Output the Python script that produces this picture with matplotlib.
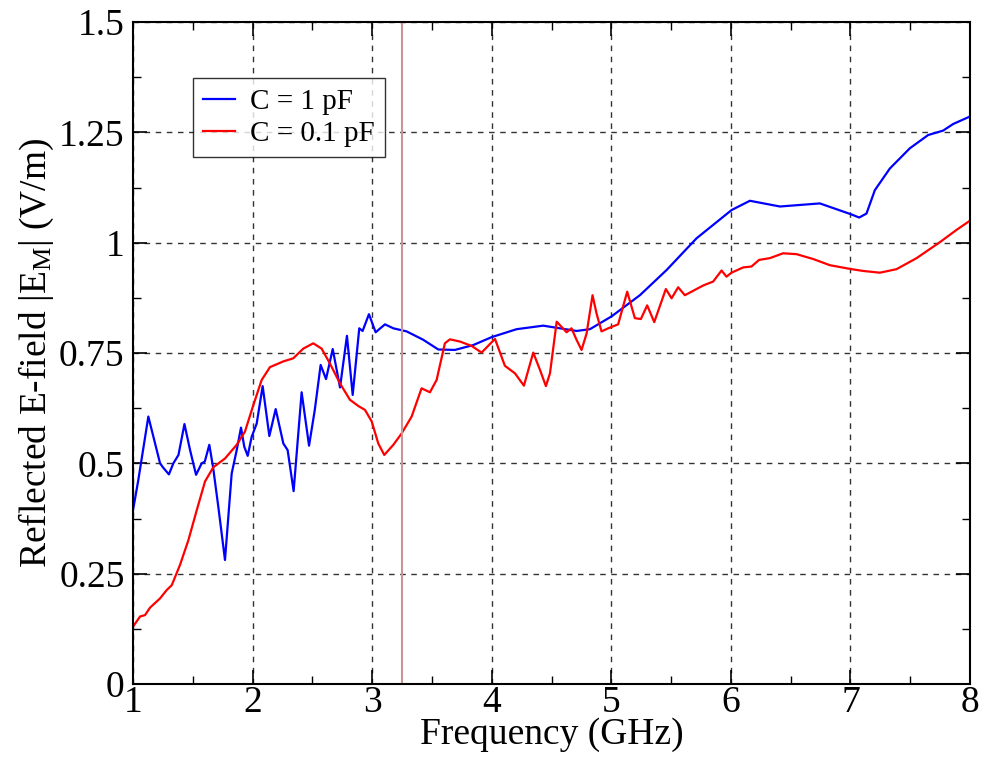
import numpy as np
import matplotlib
matplotlib.use("Agg")
import matplotlib.pyplot as plt
from matplotlib.ticker import MultipleLocator

plt.rcParams['font.family'] = ['Liberation Serif', 'DejaVu Serif']
plt.rcParams['mathtext.fontset'] = 'custom'
plt.rcParams['mathtext.rm'] = 'Liberation Serif'
plt.rcParams['mathtext.it'] = 'Liberation Serif'

# C = 1 pF (blue)
f_1pF = [1.0, 1.044, 1.128, 1.226, 1.253, 1.30, 1.337, 1.38, 1.43, 1.477, 1.527, 1.574, 1.60,
         1.638, 1.67, 1.713, 1.769, 1.825, 1.867, 1.903, 1.93, 1.959, 1.992, 2.034, 2.084,
         2.14, 2.193, 2.257, 2.293, 2.343, 2.41, 2.472, 2.52, 2.569, 2.614, 2.67, 2.731,
         2.789, 2.837, 2.892, 2.92, 2.973, 3.029, 3.107, 3.177, 3.288, 3.427, 3.553, 3.692,
         3.845, 3.999, 4.208, 4.43, 4.57, 4.71, 4.821, 5.002, 5.239, 5.462, 5.713, 6.006,
         6.159, 6.41, 6.744, 7.009, 7.073, 7.134, 7.204, 7.329, 7.497, 7.65, 7.775, 7.859, 8.0]
e_1pF = [0.394, 0.462, 0.606, 0.50, 0.49, 0.475, 0.50, 0.519, 0.589, 0.53, 0.474, 0.50, 0.504,
         0.542, 0.49, 0.402, 0.281, 0.477, 0.53, 0.581, 0.538, 0.517, 0.56, 0.59, 0.675,
         0.562, 0.623, 0.545, 0.53, 0.437, 0.661, 0.54, 0.621, 0.723, 0.691, 0.759, 0.672,
         0.789, 0.655, 0.806, 0.80, 0.838, 0.797, 0.815, 0.806, 0.799, 0.78, 0.758, 0.757,
         0.768, 0.786, 0.804, 0.812, 0.806, 0.80, 0.804, 0.833, 0.881, 0.938, 1.01, 1.074,
         1.095, 1.082, 1.089, 1.064, 1.057, 1.066, 1.119, 1.168, 1.214, 1.244, 1.254, 1.269, 1.286]

# C = 0.1 pF (red)
f_01pF = [1.0, 1.059, 1.10, 1.142, 1.226, 1.282, 1.324, 1.393, 1.463, 1.533, 1.602, 1.671,
          1.769, 1.867, 1.936, 2.006, 2.076, 2.145, 2.257, 2.34, 2.424, 2.507, 2.577, 2.647,
          2.731, 2.814, 2.884, 2.94, 2.996, 3.051, 3.101, 3.177, 3.247, 3.33, 3.413, 3.483,
          3.539, 3.608, 3.65, 3.734, 3.832, 3.915, 4.027, 4.11, 4.194, 4.269, 4.347, 4.403,
          4.453, 4.487, 4.543, 4.626, 4.667, 4.709, 4.751, 4.793, 4.843, 4.876, 4.918, 4.974,
          5.057, 5.133, 5.197, 5.247, 5.30, 5.359, 5.456, 5.504, 5.559, 5.615, 5.685, 5.768,
          5.852, 5.922, 5.963, 6.005, 6.103, 6.172, 6.236, 6.326, 6.437, 6.549, 6.688, 6.828,
          7.009, 7.106, 7.246, 7.385, 7.553, 7.747, 7.887, 8.0]
e_01pF = [0.130, 0.153, 0.156, 0.173, 0.194, 0.213, 0.224, 0.27, 0.326, 0.394, 0.459, 0.491,
          0.511, 0.542, 0.572, 0.632, 0.689, 0.718, 0.731, 0.738, 0.76, 0.772, 0.76, 0.726,
          0.681, 0.644, 0.63, 0.621, 0.595, 0.545, 0.519, 0.542, 0.568, 0.606, 0.67, 0.661,
          0.689, 0.772, 0.781, 0.776, 0.766, 0.751, 0.782, 0.721, 0.704, 0.676, 0.751, 0.712,
          0.675, 0.704, 0.821, 0.797, 0.806, 0.78, 0.757, 0.794, 0.881, 0.84, 0.799, 0.806,
          0.815, 0.889, 0.829, 0.827, 0.858, 0.82, 0.895, 0.874, 0.899, 0.881, 0.891, 0.903,
          0.912, 0.937, 0.923, 0.932, 0.944, 0.946, 0.961, 0.965, 0.976, 0.974, 0.963, 0.949,
          0.94, 0.936, 0.932, 0.94, 0.965, 1.001, 1.029, 1.05]

marker_f = 3.25

fig = plt.figure(figsize=(9.84, 7.6), dpi=100)
ax = fig.add_axes([0.1352, 0.1, 0.8506, 0.871])

ax.plot(f_1pF, e_1pF, color='#0000ff', lw=1.6, label='C = 1 pF')
ax.plot(f_01pF, e_01pF, color='#ff0000', lw=1.6, label='C = 0.1 pF')
ax.axvline(marker_f, color='#c89696', lw=1.5)

ax.set_xlim(1, 8)
ax.set_ylim(0, 1.5)
ax.xaxis.set_major_locator(MultipleLocator(1))
ax.xaxis.set_minor_locator(MultipleLocator(0.5))
ax.yaxis.set_minor_locator(MultipleLocator(0.125))
ax.set_yticks([0, 0.25, 0.5, 0.75, 1, 1.25, 1.5])
ax.set_yticklabels(['0', '0.25', '0.5', '0.75', '1', '1.25', '1.5'])

ax.grid(True, which='major', color='black', ls=(0, (4, 4)), lw=1.0, alpha=0.8)
ax.tick_params(which='both', direction='in', top=True, right=True, labelsize=27)
ax.tick_params(axis='x', which='major', pad=1)
ax.tick_params(axis='y', which='major', pad=6)
ax.tick_params(which='major', length=10, width=1.2)
ax.tick_params(which='minor', length=6, width=1.0)
for s in ax.spines.values():
    s.set_linewidth(1.5)

ax.set_xlabel('Frequency (GHz)', fontsize=27, labelpad=-2)
ax.set_ylabel('Reflected E-field |E$_\\mathrm{M}$| (V/m)', fontsize=27, labelpad=2)

leg = ax.legend(loc='upper left', bbox_to_anchor=(0.0717, 0.915), borderaxespad=0,
                fontsize=21, frameon=True, fancybox=False, edgecolor='black',
                handlelength=1.1, handletextpad=0.5, borderpad=0.35, labelspacing=0.2)
leg.get_frame().set_linewidth(1.0)

fig.savefig('out.png', dpi=100)
